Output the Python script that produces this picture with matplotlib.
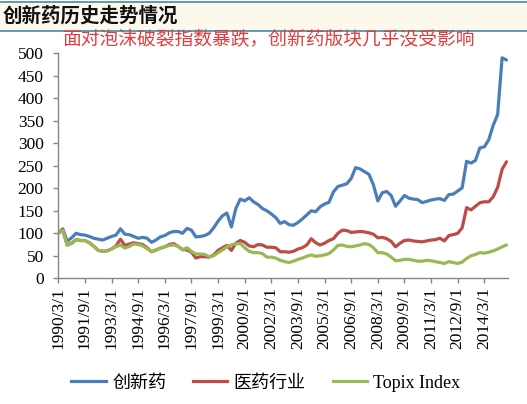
import matplotlib
matplotlib.use('Agg')
import matplotlib.pyplot as plt
import pandas as pd
from matplotlib.lines import Line2D
from matplotlib.patches import Rectangle
from matplotlib.font_manager import FontProperties

# ---------------- data ----------------
dates = pd.date_range('1990-03-01', periods=102, freq='3MS')

innov = [100, 110, 82, 90, 100, 97, 96, 93, 89, 87,
         85, 89, 93, 96, 110, 98, 97, 93, 89, 91,
         89, 80, 85, 92, 95, 101, 104, 104, 100, 111,
         107, 92, 93, 95, 100, 112, 127, 139, 145, 114,
         155, 176, 172, 179, 170, 164, 155, 150, 143, 135,
         122, 126, 119, 118, 124, 132, 141, 150, 148, 159,
         165, 169, 192, 204, 207, 210, 222, 246, 243, 237,
         231, 208, 172, 190, 193, 184, 160, 172, 184, 178,
         176, 175, 168, 171, 174, 176, 177, 173, 186, 187,
         194, 201, 260, 256, 262, 290, 292, 308, 340, 364,
         490, 485]

pharma = [100, 108, 74, 78, 86, 84, 84, 79, 71, 62,
          60, 61, 65, 72, 87, 73, 76, 79, 77, 75,
          68, 59, 63, 67, 70, 75, 77, 71, 64, 63,
          58, 45, 48, 48, 47, 52, 62, 68, 73, 62,
          78, 84, 80, 72, 70, 75, 74, 69, 69, 68,
          59, 59, 58, 60, 65, 68, 74, 88, 79, 74,
          78, 84, 88, 100, 107, 106, 102, 103, 104, 103,
          101, 98, 90, 91, 88, 82, 70, 78, 84, 85,
          83, 82, 81, 83, 85, 86, 89, 83, 95, 97,
          100, 112, 157, 152, 160, 168, 170, 170, 181, 202,
          242, 259]

topix = [100, 107, 74, 77, 86, 84, 84, 79, 71, 62,
         60, 61, 65, 70, 74, 67, 71, 76, 75, 72,
         66, 59, 62, 67, 70, 73, 74, 71, 63, 68,
         60, 54, 54, 53, 48, 50, 57, 63, 70, 74,
         77, 77, 68, 60, 57, 57, 55, 47, 47, 45,
         40, 37, 35, 38, 42, 45, 49, 52, 49, 50,
         52, 55, 63, 73, 74, 71, 70, 72, 74, 77,
         75, 68, 57, 57, 54, 47, 39, 40, 42, 42,
         40, 38, 38, 40, 39, 37, 35, 33, 37, 35,
         33, 36, 44, 50, 53, 57, 56, 58, 61, 65,
         70, 74]

series_names = ['创新药', '医药行业', 'Topix Index']
series_colors = ['#4A7EBB', '#BE4B48', '#98B954']

tick_labels = ['1990/3/1', '1991/9/1', '1993/3/1', '1994/9/1', '1996/3/1',
               '1997/9/1', '1999/3/1', '2000/9/1', '2002/3/1', '2003/9/1',
               '2005/3/1', '2006/9/1', '2008/3/1', '2009/9/1', '2011/3/1',
               '2012/9/1', '2014/3/1']
y_ticks = [0, 50, 100, 150, 200, 250, 300, 350, 400, 450, 500]

title = '创新药历史走势情况'
note = '面对泡沫破裂指数暴跌，创新药版块几乎没受影响'

# ---------------- positions ----------------
months = (dates.year - 1990) * 12 + (dates.month - 3)
tick_dates = pd.to_datetime(tick_labels, format='%Y/%m/%d')
tick_pos = (tick_dates.year - 1990) * 12 + (tick_dates.month - 3)

W, H = 527, 404
fig = plt.figure(figsize=(W / 100, H / 100), dpi=100)
fig.patch.set_facecolor('white')

# header band
fig.patches.append(Rectangle((0, 1 - 31 / H), 1, 29.5 / H, transform=fig.transFigure,
                             facecolor='#FCF8EC', edgecolor='none', zorder=0))
for yy in (1.5, 31):
    fig.add_artist(Line2D([0, 1], [1 - yy / H] * 2, transform=fig.transFigure,
                          color='#4E94AE', lw=1.3))
fig.text(3 / W, 1 - 16 / H, title, fontsize=14, fontweight='bold',
         family=['Noto Sans CJK SC'], color='#111111', ha='left', va='center')

ax = fig.add_axes([58.3 / W, 1 - 278.3 / H, (508.3 - 58.3) / W, (278.3 - 53.3) / H])
ax.set_facecolor('none')

for vals, name, col in zip([innov, pharma, topix], series_names, series_colors):
    ax.plot(months, vals, color=col, lw=2.3, label=name, solid_joinstyle='round',
            solid_capstyle='round')

ax.set_xlim(0, 304.2)
ax.set_ylim(0, 500)
ax.set_yticks(y_ticks)
ax.set_yticklabels([str(v) for v in y_ticks])
ax.set_xticks(tick_pos)
ax.set_xticklabels(tick_labels, rotation=90)

for s in ('top', 'right'):
    ax.spines[s].set_visible(False)
for s in ('left', 'bottom'):
    ax.spines[s].set_color('#868686')
    ax.spines[s].set_linewidth(1.0)
ax.tick_params(axis='both', direction='out', length=3.5, width=1.0, color='#868686',
               labelsize=12.5, labelcolor='#000000')
ax.tick_params(axis='y', pad=7)
ax.tick_params(axis='x', pad=3)
for lab in ax.get_xticklabels() + ax.get_yticklabels():
    lab.set_family(['Liberation Serif'])

fig.text(63 / W, 1 - 39.5 / H, note, fontsize=13.5, color='#E03C3C',
         family=['Noto Sans CJK SC'], ha='left', va='center')

handles = [Line2D([], [], color=c, lw=2.3) for c in series_colors]
fig.legend(handles, series_names, loc='center', bbox_to_anchor=(266 / W, 1 - 383 / H),
           ncol=3, frameon=False,
           prop=FontProperties(family=['Liberation Serif', 'Noto Sans CJK SC'], size=13),
           handlelength=1.9, handletextpad=0.35, columnspacing=1.5)

fig.savefig('out.png', dpi=100)
